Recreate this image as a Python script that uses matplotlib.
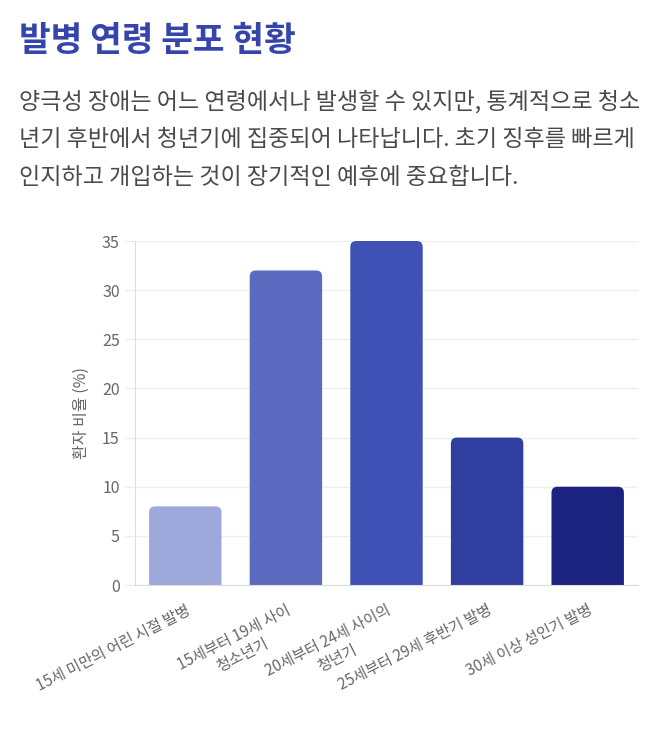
import matplotlib
matplotlib.use("Agg")
import matplotlib.pyplot as plt
from matplotlib.patches import FancyBboxPatch

plt.rcParams['font.family'] = ['Noto Sans CJK KR', 'DejaVu Sans']

# data
categories = [
    "15세 미만의 어린 시절 발병",
    "15세부터 19세 사이\n청소년기",
    "20세부터 24세 사이의\n청년기",
    "25세부터 29세 후반기 발병",
    "30세 이상 성인기 발병",
]
values = [8, 32, 35, 15, 10]
bar_colors = ["#9FA8DA", "#5C6BC0", "#3F51B5", "#303F9F", "#1A237E"]
y_ticks = [0, 5, 10, 15, 20, 25, 30, 35]

title = "발병 연령 분포 현황"
subtitle_lines = [
    "양극성 장애는 어느 연령에서나 발생할 수 있지만, 통계적으로 청소",
    "년기 후반에서 청년기에 집중되어 나타납니다. 초기 징후를 빠르게",
    "인지하고 개입하는 것이 장기적인 예후에 중요합니다.",
]
y_label = "환자 비율 (%)"

W, H = 667, 738
fig = plt.figure(figsize=(W / 100, H / 100), dpi=100)
fig.patch.set_facecolor("white")

# header text
fig.text(19 / W, 1 - 41 / H, title, fontsize=24.8, fontweight="bold",
         color="#3645AC", ha="left", va="center")
for i, line in enumerate(subtitle_lines):
    fig.text(19 / W, 1 - (102 + i * 37.5) / H, line, fontsize=16.6,
             color="#4A4A4A", ha="left", va="center")

# chart
ax = fig.add_axes([135 / W, 1 - 585 / H, (638 - 135) / W, (585 - 241) / H])
x = list(range(len(categories)))
bars = ax.bar(x, values, width=0.72, color=bar_colors)
ax.set_xlim(-0.5, len(categories) - 0.5)
ax.set_ylim(0, 35)

# rounded tops
ax_w = (638 - 135)
ax_h = (585 - 241)
aspect = (ax_w / 5.0) / (ax_h / 35.0)
for b, c in zip(bars, bar_colors):
    b.set_visible(False)
    extra = 1.0
    p = FancyBboxPatch((b.get_x(), -extra), b.get_width(), b.get_height() + extra,
                       boxstyle="round,pad=0,rounding_size=0.06",
                       mutation_aspect=aspect, facecolor=c, edgecolor="none",
                       clip_on=True)
    ax.add_patch(p)

ax.set_yticks(y_ticks)
ax.set_xticks(x)
ax.set_xticklabels(categories, rotation=27, ha="right", va="top",
                   rotation_mode="anchor", multialignment="center")
ax.tick_params(axis="x", length=0, pad=12, labelsize=11, labelcolor="#666666")
ax.tick_params(axis="y", length=7, color="#EBEBEB", width=1, pad=4,
               labelsize=11.5, labelcolor="#666666")
ax.yaxis.grid(True, color="#EEEEEE", linewidth=1)
ax.set_axisbelow(True)
for s in ["top", "right"]:
    ax.spines[s].set_visible(False)
for s in ["left", "bottom"]:
    ax.spines[s].set_color("#DDDDDD")
ax.set_ylabel(y_label, fontsize=11.5, color="#666666", labelpad=9)

fig.savefig("out.png", dpi=100, facecolor="white")
